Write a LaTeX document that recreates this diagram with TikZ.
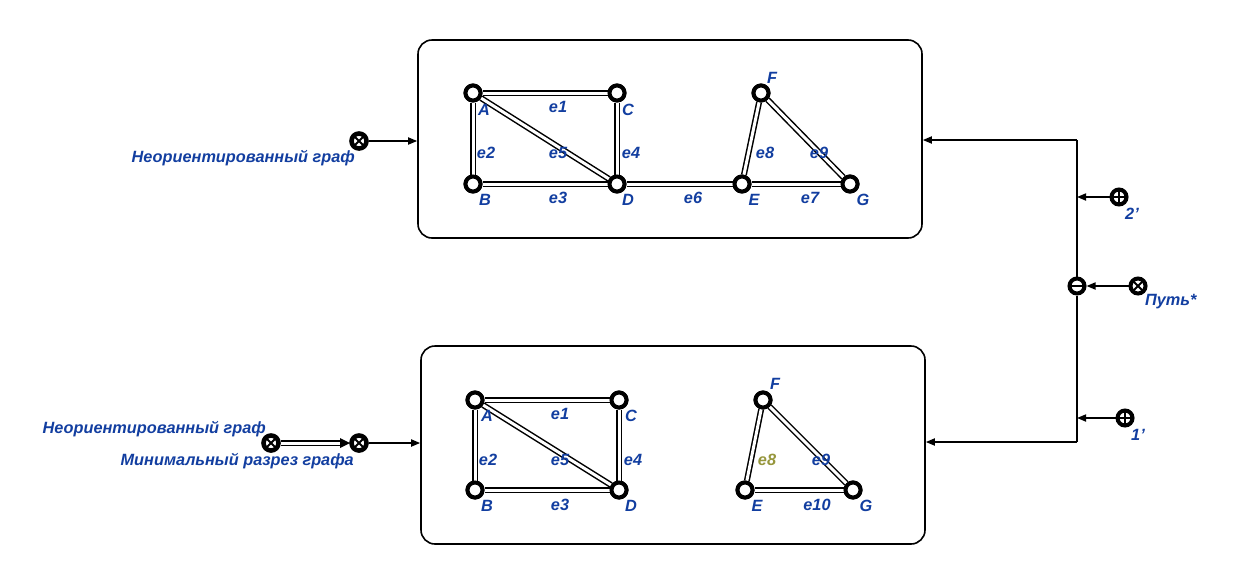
\documentclass[tikz,border=0pt]{standalone}
\usepackage{fontspec}
\setmainfont{Liberation Sans}
\usetikzlibrary{arrows.meta,calc}
\definecolor{lbl}{RGB}{18,62,160}
\definecolor{olv}{RGB}{150,150,60}
\begin{document}
\begin{tikzpicture}[x=1pt,y=-1pt,
  panel/.style={draw, line width=1.6pt, rounded corners=14pt, fill=white,
    minimum width=504pt, minimum height=198pt, inner sep=0pt},
  vtx/.style={circle, draw, line width=4pt, fill=white, minimum size=15pt, inner sep=0pt},
  edg/.style={draw=black, line width=1.5pt, double=white, double distance=3pt},
  lab/.style={text=lbl, font=\bfseries\itshape\fontsize{16.3}{17}\selectfont, inner sep=0pt},
  sym/.style={circle, draw, line width=4pt, fill=white, minimum size=15pt, inner sep=0pt},
  otimes/.style={sym, path picture={\draw[line width=2pt]
      ($(path picture bounding box.north west)!0.2!(path picture bounding box.south east)$) --
      ($(path picture bounding box.north west)!0.8!(path picture bounding box.south east)$)
      ($(path picture bounding box.north east)!0.2!(path picture bounding box.south west)$) --
      ($(path picture bounding box.north east)!0.8!(path picture bounding box.south west)$);}},
  heavyx/.style={otimes, line width=4.6pt},
  oplus/.style={sym, path picture={\draw[line width=2pt]
      (path picture bounding box.north) -- (path picture bounding box.south)
      (path picture bounding box.west) -- (path picture bounding box.east);}},
  ominus/.style={sym, path picture={\draw[line width=2.4pt]
      (path picture bounding box.west) -- (path picture bounding box.east);}},
  conn/.style={line width=1.7pt, -{Triangle[length=9pt,width=7pt]}},
  wire/.style={line width=1.7pt}]
\useasboundingbox (0,0) rectangle (1239,571);

% panels
\node[panel] (top) at (670,139) {};
\node[panel] (bot) at (673,445) {};

% upper graph
\node[vtx] (A1) at (473,93) {};
\node[vtx] (C1) at (617,93) {};
\node[vtx] (B1) at (473,184) {};
\node[vtx] (D1) at (617,184) {};
\node[vtx] (E1) at (742,184) {};
\node[vtx] (G1) at (850,184) {};
\node[vtx] (F1) at (761,93) {};
\path[edg] (A1) -- (C1);
\path[edg] (A1) -- (B1);
\path[edg] (A1) -- (D1);
\path[edg] (C1) -- (D1);
\path[edg] (B1) -- (D1);
\path[edg] (D1) -- (E1);
\path[edg] (E1) -- (G1);
\path[edg] (E1) -- (F1);
\path[edg] (F1) -- (G1);
\foreach \v in {A1,C1,B1,D1,E1,G1,F1} \node[vtx] at (\v) {};

\node[lab] (lA1) at (484,110) {A};
\node[lab] (lC1) at (628,110) {C};
\node[lab] (lB1) at (485,200) {B};
\node[lab] (lD1) at (628,200) {D};
\node[lab] (lE1) at (754,200) {E};
\node[lab] (lG1) at (863,200) {G};
\node[lab] (lF1) at (772,78) {F};
\node[lab] (e11) at (558,107) {e1};
\node[lab] (e21) at (486,153) {e2};
\node[lab] (e51) at (558,153) {e5};
\node[lab] (e41) at (631,153) {e4};
\node[lab] (e31) at (558,198) {e3};
\node[lab] (e61) at (693,198) {e6};
\node[lab] (e81) at (765,153) {e8};
\node[lab] (e91) at (819,153) {e9};
\node[lab] (e71) at (810,198) {e7};

% lower graph
\node[vtx] (A2) at (475,400) {};
\node[vtx] (C2) at (619,400) {};
\node[vtx] (B2) at (475,490) {};
\node[vtx] (D2) at (619,490) {};
\node[vtx] (F2) at (763,400) {};
\node[vtx] (E2) at (745,490) {};
\node[vtx] (G2) at (853,490) {};
\path[edg] (A2) -- (C2);
\path[edg] (A2) -- (B2);
\path[edg] (A2) -- (D2);
\path[edg] (C2) -- (D2);
\path[edg] (B2) -- (D2);
\path[edg] (E2) -- (G2);
\path[edg] (E2) -- (F2);
\path[edg] (F2) -- (G2);
\foreach \v in {A2,C2,B2,D2,F2,E2,G2} \node[vtx] at (\v) {};

\node[lab] (lA2) at (487,416) {A};
\node[lab] (lC2) at (631,416) {C};
\node[lab] (lB2) at (487,506) {B};
\node[lab] (lD2) at (631,506) {D};
\node[lab] (lF2) at (775,384) {F};
\node[lab] (lE2) at (757,506) {E};
\node[lab] (lG2) at (866,506) {G};
\node[lab] (e12) at (560,414) {e1};
\node[lab] (e22) at (488,460) {e2};
\node[lab] (e52) at (560,460) {e5};
\node[lab] (e42) at (633,460) {e4};
\node[lab] (e32) at (560,505) {e3};
\node[lab, text=olv] (e82) at (767,460) {e8};
\node[lab] (e92) at (821,460) {e9};
\node[lab] (e102) at (817,505) {e10};

% inputs on the left
\node[heavyx] (inT) at (359,141) {};
\node[lab, anchor=east] (tT) at (355,158) {Неориентированный граф};
\draw[conn] (inT) -- (inT -| top.west);

\node[heavyx] (inB1) at (271,443) {};
\node[heavyx] (inB2) at (359,443) {};
\node[lab, anchor=east] (tB1) at (266,429) {Неориентированный граф};
\node[lab, anchor=east] (tB2) at (354,461) {Минимальный разрез графа};
\coordinate (dblend) at (340,443);
\path[edg] (inB1) -- (dblend);
\fill (dblend) ++(0,-5) -- ++(10,5) -- ++(-10,5) -- cycle;
\draw[conn] (inB2) -- (inB2 -| bot.west);

% feedback on the right
\coordinate (jt) at (1077,140);
\coordinate (jb) at (1077,442);
\node[ominus] (mi) at (1077,286) {};
\draw[wire] (jt) -- (mi) -- (jb);
\draw[conn] (jt) -- (jt -| top.east);
\draw[conn] (jb) -- (jb -| bot.east);

\node[oplus] (p2) at (1119,197) {};
\node[lab, anchor=west] (t2) at (1125,214) {2'};
\draw[conn] (p2) -- (p2 -| jt);

\node[otimes] (px) at (1138,286) {};
\node[lab, anchor=west] (tp) at (1145,302) {Путь*};
\draw[conn] (px) -- (mi);

\node[oplus] (p1) at (1125,418) {};
\node[lab, anchor=west] (t1) at (1131,435) {1'};
\draw[conn] (p1) -- (p1 -| jb);
\end{tikzpicture}
\end{document}
